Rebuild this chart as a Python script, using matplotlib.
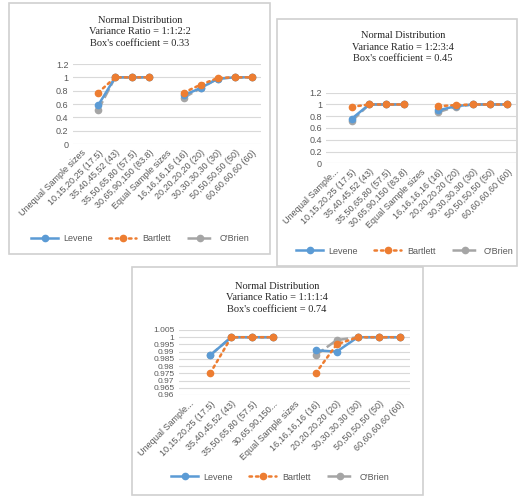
import numpy as np
import matplotlib
matplotlib.use("Agg")
import matplotlib.pyplot as plt
from matplotlib.patches import Rectangle

nan = np.nan

# category labels along the x axis
sizes_full = ["Unequal Sample sizes", "10,15,20,25 (17.5)", "35,40,45,52 (43)",
              "35,50,65,80 (57.5)", "30,65,90,150 (83.8)", "Equal Sample sizes",
              "16,16,16,16 (16)", "20,20,20,20 (20)", "30,30,30,30 (30)",
              "50,50,50,50 (50)", "60,60,60,60 (60)"]
sizes_b = ["Unequal Sample..."] + sizes_full[1:]
sizes_c = ["Unequal Sample...", "10,15,20,25 (17.5)", "35,40,45,52 (43)",
           "35,50,65,80 (57.5)", "30,65,90,150...", "Equal Sample sizes",
           "16,16,16,16 (16)", "20,20,20,20 (20)", "30,30,30,30 (30)",
           "50,50,50,50 (50)", "60,60,60,60 (60)"]

# variance ratio 1:1:2:2
levene_a = [nan, 0.58, 1.0, 1.0, 1.0, nan, 0.73, 0.84, 0.98, 1.0, 1.0]
bartlett_a = [nan, 0.77, 1.0, 1.0, 1.0, nan, 0.77, 0.89, 0.99, 1.0, 1.0]
obrien_a = [nan, 0.51, 1.0, 1.0, 1.0, nan, 0.69, 0.84, 0.98, 1.0, 1.0]

# variance ratio 1:2:3:4
levene_b = [nan, 0.76, 1.0, 1.0, 1.0, nan, 0.90, 0.97, 1.0, 1.0, 1.0]
bartlett_b = [nan, 0.96, 1.0, 1.0, 1.0, nan, 0.97, 0.99, 1.0, 1.0, 1.0]
obrien_b = [nan, 0.72, 1.0, 1.0, 1.0, nan, 0.87, 0.96, 1.0, 1.0, 1.0]

# variance ratio 1:1:1:4
levene_c = [nan, 0.9875, 1.0, 1.0, 1.0, nan, 0.991, 0.990, 1.0, 1.0, 1.0]
bartlett_c = [nan, 0.975, 1.0, 1.0, 1.0, nan, 0.975, 0.995, 1.0, 1.0, 1.0]
obrien_c = [nan, 0.9875, 1.0, 1.0, 1.0, nan, 0.9875, 0.998, 1.0, 1.0, 1.0]

W, H = 518, 497
BLUE, ORANGE, GREY = "#5B9BD5", "#ED7D31", "#A5A5A5"
TXT = "#595959"

fig = plt.figure(figsize=(W / 100, H / 100), dpi=100)
fig.patch.set_facecolor("white")


def px_rect(x0, y0, x1, y1):
    # pixel box (top-left origin) -> figure fraction rect
    return [x0 / W, 1 - y1 / H, (x1 - x0) / W, (y1 - y0) / H]


def frame(x0, y0, x1, y1):
    r = Rectangle((x0 / W, 1 - y1 / H), (x1 - x0) / W, (y1 - y0) / H,
                  transform=fig.transFigure, fill=False,
                  edgecolor="#D0D0D0", lw=1.2)
    fig.add_artist(r)


def panel(box, title, title_xy, leg_xy, labels, lev, bart, obr, ylim, yticks, yfmt,
          ysize=6.5):
    ax = fig.add_axes(px_rect(*box))
    x = np.arange(len(labels))
    ax.plot(x, lev, color=BLUE, lw=1.8, marker="o", ms=4.5, label="Levene", zorder=3)
    ax.plot(x, bart, color=ORANGE, lw=1.8, ls=(0, (1, 1.6)), dash_capstyle="round",
            marker="o", ms=4.5, label="Bartlett", zorder=4)
    ax.plot(x, obr, color=GREY, lw=1.8, ls=(0, (4, 1.5)),
            marker="o", ms=4.5, label="O'Brien", zorder=2)
    ax.set_xlim(-0.5, len(labels) - 0.5)
    ax.set_ylim(*ylim)
    ax.set_yticks(yticks)
    ax.set_yticklabels([yfmt(v) for v in yticks])
    ax.set_xticks(x)
    ax.set_xticklabels(labels, rotation=45, ha="right", rotation_mode="anchor")
    ax.grid(axis="y", color="#D9D9D9", lw=0.8)
    ax.set_axisbelow(True)
    for s in ax.spines.values():
        s.set_visible(False)
    ax.tick_params(length=0, labelsize=6.5, labelcolor=TXT, pad=3)
    ax.tick_params(axis="y", labelsize=ysize)
    for t in ax.get_xticklabels() + ax.get_yticklabels():
        t.set_fontfamily("Liberation Sans")

    fig.text(title_xy[0] / W, 1 - title_xy[1] / H, title, ha="center", va="center",
             fontsize=7.5, family="Liberation Serif", color="#262626", linespacing=1.35)
    ax.legend(loc="center", bbox_to_anchor=(leg_xy[0] / W, 1 - leg_xy[1] / H),
              bbox_transform=fig.transFigure, ncol=3, frameon=False,
              prop={"family": "Liberation Sans", "size": 6.5}, labelcolor=TXT,
              handlelength=3.0, columnspacing=1.8, handletextpad=0.6)
    return ax


frame(9, 3, 270, 254)
frame(277, 19, 517, 266)
frame(132, 267, 423, 495)

ticks_ab = [0, 0.2, 0.4, 0.6, 0.8, 1, 1.2]
fmt_ab = lambda v: "0" if v == 0 else ("1" if v == 1 else f"{v:g}")
ticks_c = [0.96, 0.965, 0.97, 0.975, 0.98, 0.985, 0.99, 0.995, 1.0, 1.005]

panel((72.5, 64, 260.5, 144),
      "Normal Distribution\nVariance Ratio = 1:1:2:2\nBox's coefficient = 0.33",
      (140, 32), (140, 239), sizes_full, levene_a, bartlett_a, obrien_a,
      (0, 1.2), ticks_ab, fmt_ab)

panel((326, 92.7, 516, 163.3),
      "Normal Distribution\nVariance Ratio = 1:2:3:4\nBox's coefficient = 0.45",
      (403, 47), (405, 251), sizes_b, levene_b, bartlett_b, obrien_b,
      (0, 1.2), ticks_ab, fmt_ab)

panel((178.5, 330, 410.5, 395),
      "Normal Distribution\nVariance Ratio = 1:1:1:4\nBox's coefficient = 0.74",
      (277, 298), (280, 477), sizes_c, levene_c, bartlett_c, obrien_c,
      (0.96, 1.005), ticks_c, lambda v: f"{v:g}", ysize=6)

fig.savefig("out.png", dpi=100)
